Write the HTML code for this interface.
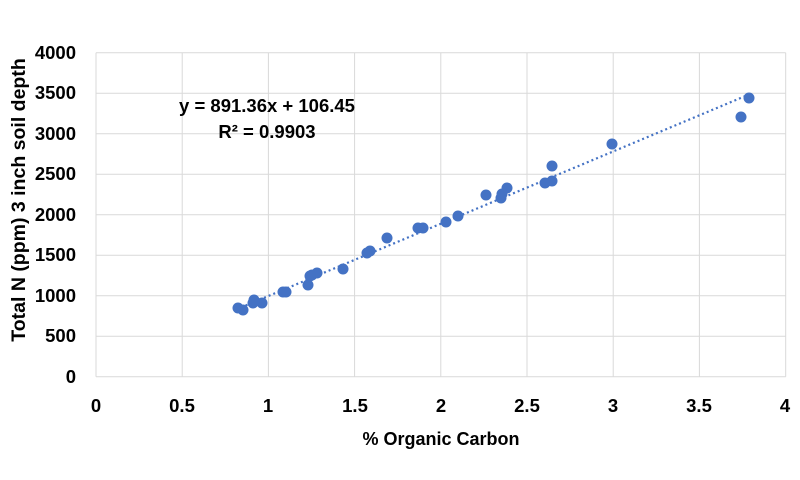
<!DOCTYPE html>
<html><head><meta charset="utf-8"><style>body{margin:0;background:#fff}svg{display:block}</style></head><body>
<svg width="800" height="480" xmlns="http://www.w3.org/2000/svg" font-family="Liberation Sans, sans-serif" font-weight="bold">
<rect width="800" height="480" fill="#fff"/>
<g stroke="#d9d9d9" stroke-width="1">
<line x1="96" y1="52.7" x2="785.7" y2="52.7"/><line x1="96" y1="93.2" x2="785.7" y2="93.2"/><line x1="96" y1="133.7" x2="785.7" y2="133.7"/><line x1="96" y1="174.2" x2="785.7" y2="174.2"/><line x1="96" y1="214.7" x2="785.7" y2="214.7"/><line x1="96" y1="255.2" x2="785.7" y2="255.2"/><line x1="96" y1="295.7" x2="785.7" y2="295.7"/><line x1="96" y1="336.2" x2="785.7" y2="336.2"/>
<line x1="182.2" y1="52.7" x2="182.2" y2="376.7"/><line x1="268.4" y1="52.7" x2="268.4" y2="376.7"/><line x1="354.6" y1="52.7" x2="354.6" y2="376.7"/><line x1="440.8" y1="52.7" x2="440.8" y2="376.7"/><line x1="527" y1="52.7" x2="527" y2="376.7"/><line x1="613.2" y1="52.7" x2="613.2" y2="376.7"/><line x1="699.4" y1="52.7" x2="699.4" y2="376.7"/><line x1="785.7" y1="52.7" x2="785.7" y2="376.7"/>
<line x1="96" y1="52.7" x2="96" y2="376.7"/>
<line x1="96" y1="376.7" x2="785.7" y2="376.7"/>
</g>
<line x1="241" y1="307.5" x2="749" y2="94.5" stroke="#4472c4" stroke-width="2.2" stroke-dasharray="2,3"/>
<g fill="#4472c4">
<circle cx="238" cy="308" r="5.5"/><circle cx="243" cy="310" r="5.5"/><circle cx="253" cy="303" r="5.5"/><circle cx="254" cy="300" r="5.5"/><circle cx="262" cy="303" r="5.5"/><circle cx="283" cy="292" r="5.5"/><circle cx="286" cy="292" r="5.5"/><circle cx="308" cy="285" r="5.5"/><circle cx="310" cy="276" r="5.5"/><circle cx="312" cy="275" r="5.5"/><circle cx="317" cy="273" r="5.5"/><circle cx="343" cy="269" r="5.5"/><circle cx="367" cy="253" r="5.5"/><circle cx="370" cy="251" r="5.5"/><circle cx="387" cy="238" r="5.5"/><circle cx="418" cy="228" r="5.5"/><circle cx="423" cy="228" r="5.5"/><circle cx="446" cy="222" r="5.5"/><circle cx="458" cy="216" r="5.5"/><circle cx="486" cy="195" r="5.5"/><circle cx="501" cy="198" r="5.5"/><circle cx="502" cy="194" r="5.5"/><circle cx="507" cy="188" r="5.5"/><circle cx="545" cy="183" r="5.5"/><circle cx="552" cy="181" r="5.5"/><circle cx="552" cy="166" r="5.5"/><circle cx="612" cy="144" r="5.5"/><circle cx="741" cy="117" r="5.5"/><circle cx="749" cy="98" r="5.5"/>
</g>
<g font-size="18.5" text-anchor="end" fill="#000">
<text x="76" y="59">4000</text><text x="76" y="99">3500</text><text x="76" y="140">3000</text><text x="76" y="180">2500</text><text x="76" y="221">2000</text><text x="76" y="261">1500</text><text x="76" y="302">1000</text><text x="76" y="342">500</text><text x="76" y="383">0</text>
</g>
<g font-size="18.5" text-anchor="middle" fill="#000">
<text x="96" y="412">0</text><text x="182" y="412">0.5</text><text x="268" y="412">1</text><text x="355" y="412">1.5</text><text x="441" y="412">2</text><text x="527" y="412">2.5</text><text x="613" y="412">3</text><text x="699" y="412">3.5</text><text x="785" y="412">4</text>
<text x="441" y="445" font-size="18">% Organic Carbon</text>
<text x="267" y="112" font-size="18.5">y = 891.36x + 106.45</text>
<text x="267" y="138" font-size="18.5">R² = 0.9903</text>
<text transform="translate(25,200) rotate(-90)" font-size="19.5">Total N (ppm) 3 inch soil depth</text>
</g>
</svg>
</body></html>
